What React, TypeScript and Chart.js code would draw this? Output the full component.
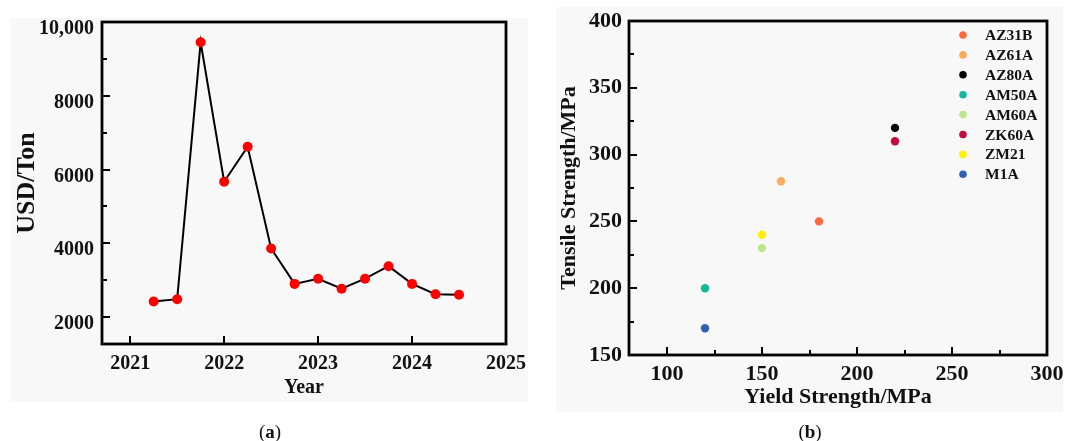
import React, { useEffect, useRef } from 'react';
import { Chart, registerables } from 'chart.js';

Chart.register(...registerables);

// ---------- Data: panel (a) ----------
const quarterYears = [2021.25, 2021.5, 2021.75, 2022, 2022.25, 2022.5, 2022.75, 2023, 2023.25, 2023.5, 2023.75, 2024, 2024.25, 2024.5];
const pricesUsdPerTon = [2420, 2485, 9450, 5670, 6620, 3860, 2900, 3040, 2770, 3040, 3380, 2900, 2620, 2605];
const yearTicks = [2021, 2022, 2023, 2024, 2025];
const yearTickLabels = ['2021', '2022', '2023', '2024', '2025'];
const priceTicks = [2000, 4000, 6000, 8000, 10000];
const priceTickLabels = ['2000', '4000', '6000', '8000', '10,000'];
const priceMinorTicks = [3000, 5000, 7000, 9000];

// ---------- Data: panel (b) ----------
const alloyNames = ['AZ31B', 'AZ61A', 'AZ80A', 'AM50A', 'AM60A', 'ZK60A', 'ZM21', 'M1A'];
const yieldStrengths = [180, 160, 220, 120, 150, 220, 150, 120];
const tensileStrengths = [250, 280, 320, 200, 230, 310, 240, 170];
const alloyColors = ['#ff6a3d', '#ffab5c', '#000000', '#14b89c', '#bbe58f', '#c20a3e', '#fff000', '#3060b4'];
const yieldTicks = [100, 150, 200, 250, 300];
const yieldTickLabels = ['100', '150', '200', '250', '300'];
const yieldMinorTicks = [125, 175, 225, 275];
const tensileTicks = [150, 200, 250, 300, 350, 400];
const tensileTickLabels = ['150', '200', '250', '300', '350', '400'];
const tensileMinorTicks = [175, 225, 275, 325, 375];

const SERIF = '"Liberation Serif", "Times New Roman", serif';

const frameTicksPlugin = {
  id: 'frameTicks',
  beforeDatasetsDraw(chart: any, _args: any, opts: any) {
    const { ctx, chartArea: a, scales } = chart;
    ctx.save();
    ctx.strokeStyle = '#000';
    ctx.lineWidth = 2;
    const drawX = (vals: number[], len: number) => {
      vals.forEach((v) => {
        const px = Math.round(scales.x.getPixelForValue(v));
        ctx.beginPath();
        ctx.moveTo(px, a.bottom);
        ctx.lineTo(px, a.bottom - len);
        ctx.stroke();
      });
    };
    const drawY = (vals: number[], len: number) => {
      vals.forEach((v) => {
        const py = Math.round(scales.y.getPixelForValue(v));
        ctx.beginPath();
        ctx.moveTo(a.left, py);
        ctx.lineTo(a.left + len, py);
        ctx.stroke();
      });
    };
    drawX(opts.xMajor || [], 8);
    drawX(opts.xMinor || [], 5);
    drawY(opts.yMajor || [], 8);
    drawY(opts.yMinor || [], 5);
    ctx.lineWidth = 2.8;
    ctx.strokeRect(a.left, a.top, a.right - a.left, a.bottom - a.top);
    ctx.restore();
  },
};

const insideLegendPlugin = {
  id: 'insideLegend',
  afterDraw(chart: any, _args: any, opts: any) {
    if (!opts || !opts.show) return;
    const { ctx } = chart;
    ctx.save();
    ctx.font = `bold ${opts.fontSize}px ${SERIF}`;
    ctx.textBaseline = 'middle';
    ctx.textAlign = 'left';
    chart.data.datasets.forEach((ds: any, i: number) => {
      const y = opts.y + i * opts.spacing;
      ctx.fillStyle = ds.backgroundColor;
      ctx.beginPath();
      ctx.arc(opts.markerX, y, opts.r, 0, Math.PI * 2);
      ctx.fill();
      ctx.fillStyle = '#111';
      ctx.fillText(ds.label, opts.textX, y + 1);
    });
    ctx.restore();
  },
};

function fixedTicks(values: number[]) {
  return (scale: any) => {
    scale.ticks = values.map((v) => ({ value: v }));
  };
}

function PriceChart() {
  const ref = useRef<HTMLCanvasElement>(null);
  useEffect(() => {
    const chart = new Chart(ref.current as HTMLCanvasElement, {
      type: 'line',
      data: {
        datasets: [
          {
            label: 'Price',
            data: quarterYears.map((x, i) => ({ x, y: pricesUsdPerTon[i] })),
            borderColor: '#000',
            borderWidth: 2,
            pointBackgroundColor: '#ff0000',
            pointBorderColor: '#ff0000',
            pointRadius: 5,
            pointBorderWidth: 0,
            tension: 0,
          },
        ],
      },
      options: {
        responsive: false,
        animation: false,
        layout: { padding: { left: 0, top: 22, right: 34, bottom: 0 } },
        plugins: {
          legend: { display: false },
          tooltip: { enabled: false },
          frameTicks: { xMajor: yearTicks, xMinor: [], yMajor: priceTicks, yMinor: priceMinorTicks },
        } as any,
        scales: {
          x: {
            type: 'linear',
            min: 2020.7,
            max: 2025,
            afterBuildTicks: fixedTicks(yearTicks),
            afterFit: (s: any) => { s.height = 97; },
            grid: { display: false, drawTicks: false },
            border: { display: false },
            ticks: {
              padding: 8,
              color: '#111',
              font: { family: SERIF, size: 20, weight: 'bold' },
              callback: (v: any) => yearTickLabels[yearTicks.indexOf(Number(v))] ?? '',
              maxRotation: 0,
              autoSkip: false,
            },
            title: {
              display: true,
              text: 'Year',
              color: '#111',
              font: { family: SERIF, size: 20, weight: 'bold' },
              padding: { top: 0, bottom: 41 },
            },
          },
          y: {
            type: 'linear',
            min: 1270,
            max: 10000,
            afterBuildTicks: fixedTicks(priceTicks),
            afterFit: (s: any) => { s.width = 102; },
            grid: { display: false, drawTicks: false },
            border: { display: false },
            ticks: {
              padding: 8,
              labelOffset: 7,
              color: '#111',
              font: { family: SERIF, size: 20, weight: 'bold' },
              callback: (v: any) => priceTickLabels[priceTicks.indexOf(Number(v))] ?? '',
              autoSkip: false,
            },
            title: {
              display: true,
              text: 'USD/Ton',
              color: '#111',
              font: { family: SERIF, size: 26, weight: 'bold' },
              padding: { top: 12, bottom: 0 },
            },
          },
        },
      },
      plugins: [frameTicksPlugin],
    } as any);
    return () => chart.destroy();
  }, []);
  return <canvas ref={ref} width={540} height={441} style={{ position: 'absolute', left: 0, top: 0, width: 540, height: 441 }} />;
}

function StrengthChart() {
  const ref = useRef<HTMLCanvasElement>(null);
  useEffect(() => {
    const chart = new Chart(ref.current as HTMLCanvasElement, {
      type: 'scatter',
      data: {
        datasets: alloyNames.map((name, i) => ({
          label: name,
          data: [{ x: yieldStrengths[i], y: tensileStrengths[i] }],
          backgroundColor: alloyColors[i],
          borderColor: alloyColors[i],
          pointRadius: 4.2,
          pointBorderWidth: 0,
        })),
      },
      options: {
        responsive: false,
        animation: false,
        layout: { padding: { left: 0, top: 21, right: 26, bottom: 0 } },
        plugins: {
          legend: { display: false },
          tooltip: { enabled: false },
          frameTicks: { xMajor: yieldTicks, xMinor: yieldMinorTicks, yMajor: tensileTicks, yMinor: tensileMinorTicks },
          insideLegend: { show: true, markerX: 423, textX: 445, y: 35, spacing: 19.9, r: 3.8, fontSize: 15.5 },
        } as any,
        scales: {
          x: {
            type: 'linear',
            min: 80,
            max: 300,
            afterBuildTicks: fixedTicks(yieldTicks),
            afterFit: (s: any) => { s.height = 86; },
            grid: { display: false, drawTicks: false },
            border: { display: false },
            ticks: {
              padding: 6,
              color: '#111',
              font: { family: SERIF, size: 22, weight: 'bold' },
              callback: (v: any) => yieldTickLabels[yieldTicks.indexOf(Number(v))] ?? '',
              maxRotation: 0,
              autoSkip: false,
            },
            title: {
              display: true,
              text: 'Yield Strength/MPa',
              color: '#111',
              font: { family: SERIF, size: 22, weight: 'bold' },
              padding: { top: 0, bottom: 30 },
            },
          },
          y: {
            type: 'linear',
            min: 150,
            max: 400,
            afterBuildTicks: fixedTicks(tensileTicks),
            afterFit: (s: any) => { s.width = 89; },
            grid: { display: false, drawTicks: false },
            border: { display: false },
            ticks: {
              padding: 7,
              color: '#111',
              font: { family: SERIF, size: 22, weight: 'bold' },
              callback: (v: any) => tensileTickLabels[tensileTicks.indexOf(Number(v))] ?? '',
              autoSkip: false,
            },
            title: {
              display: true,
              text: 'Tensile Strength/MPa',
              color: '#111',
              font: { family: SERIF, size: 22, weight: 'bold' },
              padding: { top: 16, bottom: 0 },
            },
          },
        },
      },
      plugins: [frameTicksPlugin, insideLegendPlugin],
    } as any);
    return () => chart.destroy();
  }, []);
  return <canvas ref={ref} width={533} height={441} style={{ position: 'absolute', left: 540, top: 0, width: 533, height: 441 }} />;
}

const captionStyle: React.CSSProperties = {
  position: 'absolute',
  top: 421,
  fontFamily: SERIF,
  fontSize: 19,
  lineHeight: '22px',
  color: '#111',
  transform: 'translateX(-50%)',
  whiteSpace: 'nowrap',
};

export default function App() {
  return (
    <div style={{ position: 'absolute', left: 0, top: 0, width: 1073, height: 441, background: '#ffffff', overflow: 'hidden' }}>
      <div style={{ position: 'absolute', left: 10, top: 18, width: 518, height: 384, background: '#f8f8f8' }} />
      <div style={{ position: 'absolute', left: 556, top: 7, width: 507, height: 405, background: '#f8f8f8' }} />
      <PriceChart />
      <StrengthChart />
      <div style={{ ...captionStyle, left: 270 }}>(<b>a</b>)</div>
      <div style={{ ...captionStyle, left: 810 }}>(<b>b</b>)</div>
    </div>
  );
}
